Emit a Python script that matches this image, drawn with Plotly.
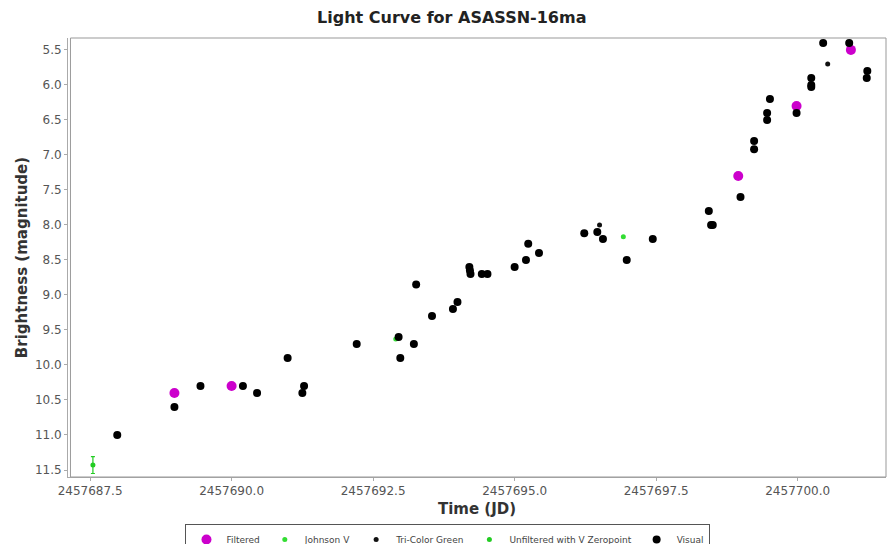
import plotly.graph_objects as go

# ---- data ----
visual_jd = [2457687.98, 2457688.99, 2457689.45, 2457690.20, 2457690.45, 2457690.99,
             2457691.25, 2457691.28, 2457692.21, 2457692.95, 2457692.98, 2457693.22,
             2457693.26, 2457693.54, 2457693.91, 2457693.99, 2457694.20, 2457694.21,
             2457694.22, 2457694.42, 2457694.52, 2457695.00, 2457695.20, 2457695.24,
             2457695.43, 2457696.23, 2457696.46, 2457696.56, 2457696.98, 2457697.44,
             2457698.43, 2457698.47, 2457698.50, 2457698.99, 2457699.23, 2457699.23,
             2457699.46, 2457699.46, 2457699.51, 2457699.98, 2457700.24, 2457700.24,
             2457700.24, 2457700.45, 2457700.91, 2457701.22, 2457701.23]
visual_mag = [11.0, 10.6, 10.3, 10.3, 10.4, 9.9,
              10.4, 10.3, 9.7, 9.6, 9.9, 9.7,
              8.85, 9.3, 9.2, 9.1, 8.6, 8.65,
              8.7, 8.7, 8.7, 8.6, 8.5, 8.27,
              8.4, 8.12, 8.1, 8.2, 8.5, 8.2,
              7.8, 8.0, 8.0, 7.6, 6.8, 6.92,
              6.4, 6.5, 6.2, 6.4, 5.9, 6.0,
              6.03, 5.4, 5.4, 5.9, 5.8]

filtered_jd = [2457688.99, 2457690.00, 2457698.95, 2457699.98, 2457700.94]
filtered_mag = [10.4, 10.3, 7.3, 6.3, 5.5]

tricolor_jd = [2457696.50, 2457700.53]
tricolor_mag = [8.0, 5.7]

johnson_jd = [2457692.90, 2457696.92]
johnson_mag = [9.63, 8.17]

unf_jd = [2457687.55]
unf_mag = [11.43]
unf_err = [0.12]

x_ticks = [2457687.5, 2457690.0, 2457692.5, 2457695.0, 2457697.5, 2457700.0]
y_ticks = [5.5, 6.0, 6.5, 7.0, 7.5, 8.0, 8.5, 9.0, 9.5, 10.0, 10.5, 11.0, 11.5]

FONT = "DejaVu Sans"

fig = go.Figure()
fig.add_trace(go.Scatter(x=filtered_jd, y=filtered_mag, mode="markers", name="Filtered",
                         marker=dict(color="#cc00cc", size=10)))
fig.add_trace(go.Scatter(x=johnson_jd, y=johnson_mag, mode="markers", name="Johnson V",
                         marker=dict(color="#33dd33", size=5)))
fig.add_trace(go.Scatter(x=tricolor_jd, y=tricolor_mag, mode="markers", name="Tri-Color Green",
                         marker=dict(color="#111111", size=5)))
fig.add_trace(go.Scatter(x=unf_jd, y=unf_mag, mode="markers", name="Unfiltered with V Zeropoint",
                         marker=dict(color="#22cc22", size=5),
                         error_y=dict(type="data", array=unf_err, color="#22cc22",
                                      thickness=1.2, width=2)))
fig.add_trace(go.Scatter(x=visual_jd, y=visual_mag, mode="markers", name="Visual",
                         marker=dict(color="#000000", size=8)))

fig.update_layout(
    width=891, height=544,
    margin=dict(l=68, r=5, t=38, b=67, autoexpand=False),
    paper_bgcolor="white", plot_bgcolor="white",
    font=dict(family=FONT, color="#555555"),
    title=dict(text="<b>Light Curve for ASASSN-16ma</b>", x=0.507, xanchor="center",
               y=0.968, yanchor="middle", font=dict(family=FONT, size=16, color="#222222")),
    showlegend=True,
    legend=dict(orientation="h", x=0.4645, xanchor="center", y=-0.107, yanchor="top",
                bordercolor="#555555", borderwidth=1, bgcolor="white",
                font=dict(family=FONT, size=9, color="#444444"),
                itemsizing="trace", tracegroupgap=0),
    xaxis=dict(range=[2457687.11, 2457701.56], tickvals=x_ticks, tickformat=".1f",
               showgrid=False, zeroline=False, showline=True, linecolor="#aaaaaa",
               ticks="outside", ticklen=3, tickcolor="#aaaaaa",
               tickfont=dict(family=FONT, size=12, color="#555555"),
               title=dict(text="<b>Time (JD)</b>", standoff=6,
                          font=dict(family=FONT, size=15, color="#333333"))),
    yaxis=dict(range=[11.6, 5.33], tickvals=y_ticks, tickformat=".1f",
               showgrid=False, zeroline=False, showline=True, linecolor="#aaaaaa",
               ticks="outside", ticklen=3, tickcolor="#aaaaaa",
               tickfont=dict(family=FONT, size=12, color="#555555"),
               title=dict(text="<b>Brightness (magnitude)</b>", standoff=3,
                          font=dict(family=FONT, size=15, color="#333333"))),
    shapes=[dict(type="rect", xref="paper", yref="paper", x0=0.003, x1=1, y0=0, y1=1,
                 line=dict(color="#999999", width=1))],
)

fig.write_html("out.html")
